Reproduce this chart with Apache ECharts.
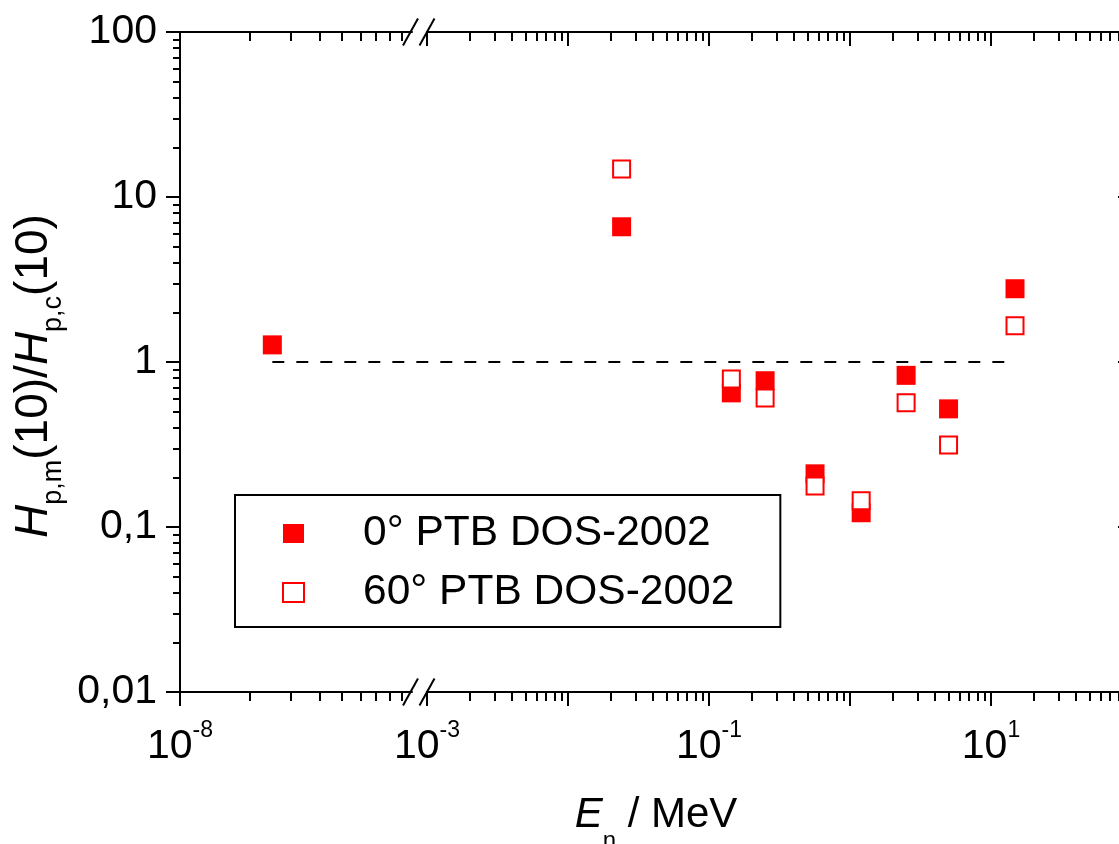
<!DOCTYPE html>
<html>
<head>
<meta charset="utf-8">
<script src="https://cdn.jsdelivr.net/npm/echarts@6/dist/echarts.min.js"></script>
<style>
  html, body { margin: 0; padding: 0; background: #fff; }
  #chart { width: 1119px; height: 844px; }
</style>
</head>
<body>
<div id="chart"></div>
<script>
const FONT = 'Liberation Sans, Arial, Helvetica, sans-serif';

// thermal point, drawn on the expanded left part of the broken axis (MeV)
const thermalEnergy = [2.5e-8];
const thermalRatio0 = [1.27];

// fast neutron fields (MeV)
const energies = [0.024, 0.144, 0.25, 0.565, 1.2, 2.5, 5, 14.8];
const ratio0 = [6.6, 0.65, 0.77, 0.21, 0.122, 0.83, 0.52, 2.78];
const ratio60 = [14.8, 0.79, 0.605, 0.177, 0.144, 0.567, 0.314, 1.66];
const refRatio = 1;

const seriesNames = ['0° PTB DOS-2002', '60° PTB DOS-2002'];

// axis ticks and labels
const xLeftRange = [1e-8, 1e-7];
const xRightRange = [1e-3, 100];
const yRange = [0.01, 100];
const xMajorLeft = [1e-8];
const xLabelsLeft = [1e-8];
const xMajorRight = [1e-3, 1e-2, 1e-1, 1, 10, 100];
const xLabelsRight = [1e-3, 1e-1, 10];
const yMajor = [0.01, 0.1, 1, 10, 100];

function minors(decades) {
  return decades.flatMap(d => [2, 3, 4, 5, 6, 7, 8, 9].map(m => m * d));
}
const xMinorLeft = minors([1e-8]);
const xMinorRight = minors([1e-3, 1e-2, 1e-1, 1, 10]);
const yMinor = minors([0.01, 0.1, 1, 10]);

const black = { color: '#000', width: 2 };

function powLabel(v) {
  const e = Math.round(Math.log10(v));
  return '{b|10}{s|' + e + '}';
}
function commaLabel(v) {
  const e = Math.round(Math.log10(v));
  return e >= 0 ? String(Math.pow(10, e)) : '0,' + '0'.repeat(-e - 1) + '1';
}

function xAxis(grid, pos, range, ticks, len, inside, labels, line) {
  return {
    type: 'log', gridIndex: grid, position: pos, min: range[0], max: range[1],
    axisLine: { show: line, onZero: false, lineStyle: black },
    axisTick: { show: true, inside: inside, length: len, customValues: ticks, lineStyle: black },
    axisLabel: labels ? {
      customValues: labels, margin: 35, formatter: powLabel,
      rich: {
        b: { fontSize: 41, fontFamily: FONT, color: '#000', lineHeight: 40, verticalAlign: 'bottom' },
        s: { fontSize: 23, fontFamily: FONT, color: '#000', lineHeight: 23, padding: [0, 0, 25, 0], verticalAlign: 'bottom' }
      }
    } : { show: false },
    splitLine: { show: false }
  };
}
function yAxis(grid, pos, ticks, len, inside, labels, line) {
  return {
    type: 'log', gridIndex: grid, position: pos, min: yRange[0], max: yRange[1],
    axisLine: { show: line, onZero: false, lineStyle: black },
    axisTick: { show: true, inside: inside, length: len, customValues: ticks, lineStyle: black },
    axisLabel: labels ? {
      customValues: labels, margin: 23, formatter: commaLabel,
      fontSize: 41, fontFamily: FONT, color: '#000'
    } : { show: false },
    splitLine: { show: false }
  };
}

const chart = echarts.init(document.getElementById('chart'), null, { renderer: 'canvas' });

const option = {
  animation: false,
  backgroundColor: '#fff',
  grid: [
    { left: 180, top: 32, width: 232, height: 660, outerBoundsMode: 'none' },
    { left: 427, top: 32, width: 705, height: 660, outerBoundsMode: 'none' }
  ],
  xAxis: [
    xAxis(0, 'bottom', xLeftRange, xMajorLeft, 14, false, xLabelsLeft, true),
    xAxis(0, 'bottom', xLeftRange, xMinorLeft, 9, false, null, false),
    xAxis(0, 'top', xLeftRange, xMajorLeft, 14, true, null, true),
    xAxis(0, 'top', xLeftRange, xMinorLeft, 9, true, null, false),
    xAxis(1, 'bottom', xRightRange, xMajorRight, 14, false, xLabelsRight, true),
    xAxis(1, 'bottom', xRightRange, xMinorRight, 9, false, null, false),
    xAxis(1, 'top', xRightRange, xMajorRight, 14, true, null, true),
    xAxis(1, 'top', xRightRange, xMinorRight, 9, true, null, false)
  ],
  yAxis: [
    yAxis(0, 'left', yMajor, 14, false, yMajor, true),
    yAxis(0, 'left', yMinor, 7, false, null, false),
    yAxis(1, 'right', yMajor, 14, true, null, true),
    yAxis(1, 'right', yMinor, 8, true, null, false)
  ],
  legend: {
    left: 235, top: 495, orient: 'vertical',
    data: [
      { name: seriesNames[0], icon: 'rect', itemStyle: { color: '#ff0000', borderWidth: 0 } },
      { name: seriesNames[1], icon: 'rect', itemStyle: { color: '#fff', borderColor: '#ff0000', borderWidth: 2 } }
    ],
    itemWidth: 21, itemHeight: 19, itemGap: 16,
    padding: [17, 46, 13, 47],
    borderColor: '#000', borderWidth: 2, borderRadius: 0,
    selectedMode: false,
    textStyle: { fontSize: 42.5, lineHeight: 42, fontFamily: FONT, color: '#000', padding: [0, 0, 0, 54] }
  },
  series: [
    {
      name: seriesNames[0], type: 'scatter', xAxisIndex: 0, yAxisIndex: 0,
      symbol: 'rect', symbolSize: 19, z: 3,
      itemStyle: { color: '#ff0000', opacity: 1 },
      data: thermalEnergy.map((e, i) => [e, thermalRatio0[i]])
    },
    {
      name: seriesNames[0], type: 'scatter', xAxisIndex: 4, yAxisIndex: 2,
      symbol: 'rect', symbolSize: 19, z: 3,
      itemStyle: { color: '#ff0000', opacity: 1 },
      data: energies.map((e, i) => [e, ratio0[i]])
    },
    {
      name: seriesNames[1], type: 'scatter', xAxisIndex: 4, yAxisIndex: 2,
      symbol: 'rect', symbolSize: 17, z: 4,
      itemStyle: { color: '#fff', borderColor: '#ff0000', borderWidth: 2, opacity: 1 },
      data: energies.map((e, i) => [e, ratio60[i]])
    }
  ]
};

chart.setOption(option);

// decorations placed from the axes: break marks, reference line, titles
const xBreakL = chart.convertToPixel({ xAxisIndex: 0 }, xLeftRange[1]);
const xBreakR = chart.convertToPixel({ xAxisIndex: 4 }, xRightRange[0]);
const yTop = chart.convertToPixel({ yAxisIndex: 0 }, yRange[1]);
const yBottom = chart.convertToPixel({ yAxisIndex: 0 }, yRange[0]);
const xRefStart = chart.convertToPixel({ xAxisIndex: 0 }, thermalEnergy[0]);
const xRefEnd = chart.convertToPixel({ xAxisIndex: 4 }, energies[energies.length - 1]);
const yRef = chart.convertToPixel({ yAxisIndex: 0 }, refRatio);
const xLeft = chart.convertToPixel({ xAxisIndex: 0 }, xLeftRange[0]);
const xRight = chart.convertToPixel({ xAxisIndex: 4 }, xRightRange[1]);

function slash(cx, cy) {
  return {
    type: 'line', z: 10,
    shape: { x1: cx - 7.5, y1: cy + 13.5, x2: cx + 7.5, y2: cy - 13.5 },
    style: { stroke: '#000', lineWidth: 2 }
  };
}

chart.setOption({
  graphic: [
    slash(xBreakL - 1.5, yTop), slash(xBreakR, yTop),
    slash(xBreakL - 1.5, yBottom), slash(xBreakR, yBottom),
    {
      type: 'line', z: 1,
      shape: { x1: xRefStart, y1: yRef, x2: xRefEnd, y2: yRef },
      style: { stroke: '#000', lineWidth: 2, lineDash: [12, 12] }
    },
    {
      type: 'text', x: (xLeft + xRight) / 2, y: 815,
      style: {
        text: '{i|E}{sub|n}{n| / MeV}',
        align: 'center', verticalAlign: 'middle',
        rich: {
          i: { fontSize: 42, fontStyle: 'italic', fontFamily: FONT, fill: '#000', lineHeight: 44, verticalAlign: 'middle' },
          n: { fontSize: 42, fontFamily: FONT, fill: '#000', lineHeight: 44, verticalAlign: 'middle' },
          sub: { fontSize: 24, fontFamily: FONT, fill: '#000', lineHeight: 24, padding: [52, 0, 0, 0], verticalAlign: 'middle' }
        }
      }
    },
    {
      type: 'text', x: 34, y: 376, rotation: Math.PI / 2,
      style: {
        text: '{i|H}{sub|p,m}{n|(10)/}{i|H}{sub|p,c}{n|(10)}',
        align: 'center', verticalAlign: 'middle',
        rich: {
          i: { fontSize: 46, fontStyle: 'italic', fontFamily: FONT, fill: '#000', lineHeight: 48, verticalAlign: 'middle' },
          n: { fontSize: 46, fontFamily: FONT, fill: '#000', lineHeight: 48, verticalAlign: 'middle' },
          sub: { fontSize: 27, fontFamily: FONT, fill: '#000', lineHeight: 27, padding: [40, 0, 0, 0], verticalAlign: 'middle' }
        }
      }
    }
  ]
});

window.addEventListener('resize', () => chart.resize());
</script>
</body>
</html>
